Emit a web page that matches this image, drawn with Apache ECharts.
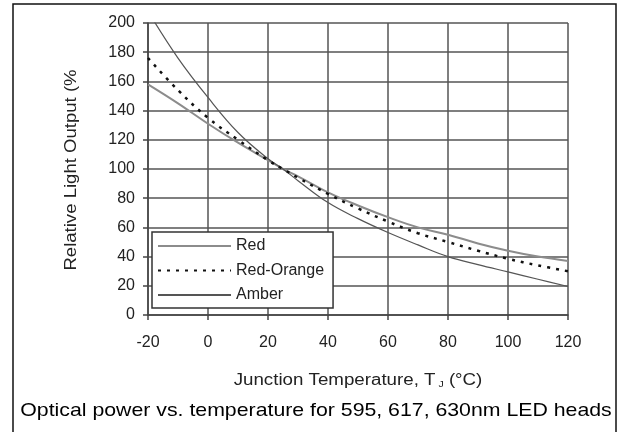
<!DOCTYPE html>
<html>
<head>
<meta charset="utf-8">
<script src="https://cdn.jsdelivr.net/npm/echarts@6/dist/echarts.min.js"></script>
<style>
html,body{margin:0;padding:0;background:#fff;}
#c{width:621px;height:432px;}
</style>
</head>
<body>
<div id="c"></div>
<script>
const temps = [-20,-10,0,10,20,25,30,40,50,60,70,80,90,100,110,120];
const redVals = [158,145,131,118,106,100,95,84,75,67,60,55,49,44,40,37];
const redOrangeVals = [176,154,135,120,106,100,94,83,73,64,56,50,44,38.5,34,30];
const amberVals = [208,176,149,125,107,100,92,77,66,56.5,48,40,34.5,29.5,24.5,19.5];
const seriesNames = ['Red','Red-Orange','Amber'];
const xTitle = 'Junction Temperature, T';
const yTitle = 'Relative Light Output (%';
const caption = 'Optical power vs. temperature for 595, 617, 630nm LED heads';

function pairs(v){ return temps.map((t,i)=>[t,v[i]]); }

const chart = echarts.init(document.getElementById('c'), null, {renderer:'canvas'});
const font = 'Arial, "Liberation Sans", sans-serif';
chart.setOption({
  animation:false,
  backgroundColor:'#fff',
  grid:{left:148, top:23, width:420, height:292, containLabel:false},
  xAxis:{
    type:'value', min:-20, max:120, interval:20,
    axisLine:{show:true, onZero:false, lineStyle:{color:'#444', width:1.5}},
    axisTick:{show:true, length:5, lineStyle:{color:'#444', width:1.5}},
    axisLabel:{margin:20, color:'#222', fontSize:16, fontFamily:font},
    splitLine:{show:true, lineStyle:{color:'#555', width:1.5}}
  },
  yAxis:{
    type:'value', min:0, max:200, interval:20,
    axisLine:{show:true, onZero:false, lineStyle:{color:'#444', width:1.5}},
    axisTick:{show:true, length:5, lineStyle:{color:'#444', width:1.5}},
    axisLabel:{margin:13, color:'#222', fontSize:16, fontFamily:font},
    splitLine:{show:true, lineStyle:{color:'#555', width:1.5}}
  },
  legend:{
    orient:'vertical', left:152, top:232,
    data:seriesNames,
    itemWidth:73, itemHeight:16, itemGap:8.5,
    padding:[6,9,5,5],
    backgroundColor:'#fff', borderColor:'#333', borderWidth:1.5,
    itemStyle:{opacity:0},
    textStyle:{color:'#222', fontSize:16, fontFamily:font},
    selectedMode:false
  },
  series:[
    {name:seriesNames[0], type:'line', data:pairs(redVals), smooth:0.4, symbol:'none', color:'#8c8c8c',
     lineStyle:{color:'#8c8c8c', width:2}, z:3},
    {name:seriesNames[1], type:'line', data:pairs(redOrangeVals), smooth:0.4, symbol:'none', color:'#111',
     lineStyle:{color:'#111', width:2.5, type:[3,6]}, z:4},
    {name:seriesNames[2], type:'line', data:pairs(amberVals), smooth:0.4, symbol:'none', color:'#555',
     lineStyle:{color:'#555', width:1.2}, z:3}
  ],
  graphic:[
    {type:'rect', shape:{x:13, y:4, width:603, height:440}, style:{fill:null, stroke:'#111', lineWidth:1.5}, silent:true},
    {type:'text', x:72, y:170, rotation:Math.PI/2, scaleX:1.16, style:{text:yTitle, fill:'#222', font:'16px '+font, align:'center', verticalAlign:'middle'}},
    {type:'text', x:358, y:381, scaleX:1.17, style:{text:'{a|'+xTitle+'}{s| J}{a| (°C)}', rich:{a:{fill:'#222', font:'16px '+font}, s:{fill:'#222', font:'9px '+font, padding:[8,0,0,0]}}, align:'center', verticalAlign:'middle'}},
    {type:'text', x:316, y:411, scaleX:1.12, style:{text:caption, fill:'#000', font:'19px '+font, align:'center', verticalAlign:'middle'}}
  ]
});
</script>
</body>
</html>
